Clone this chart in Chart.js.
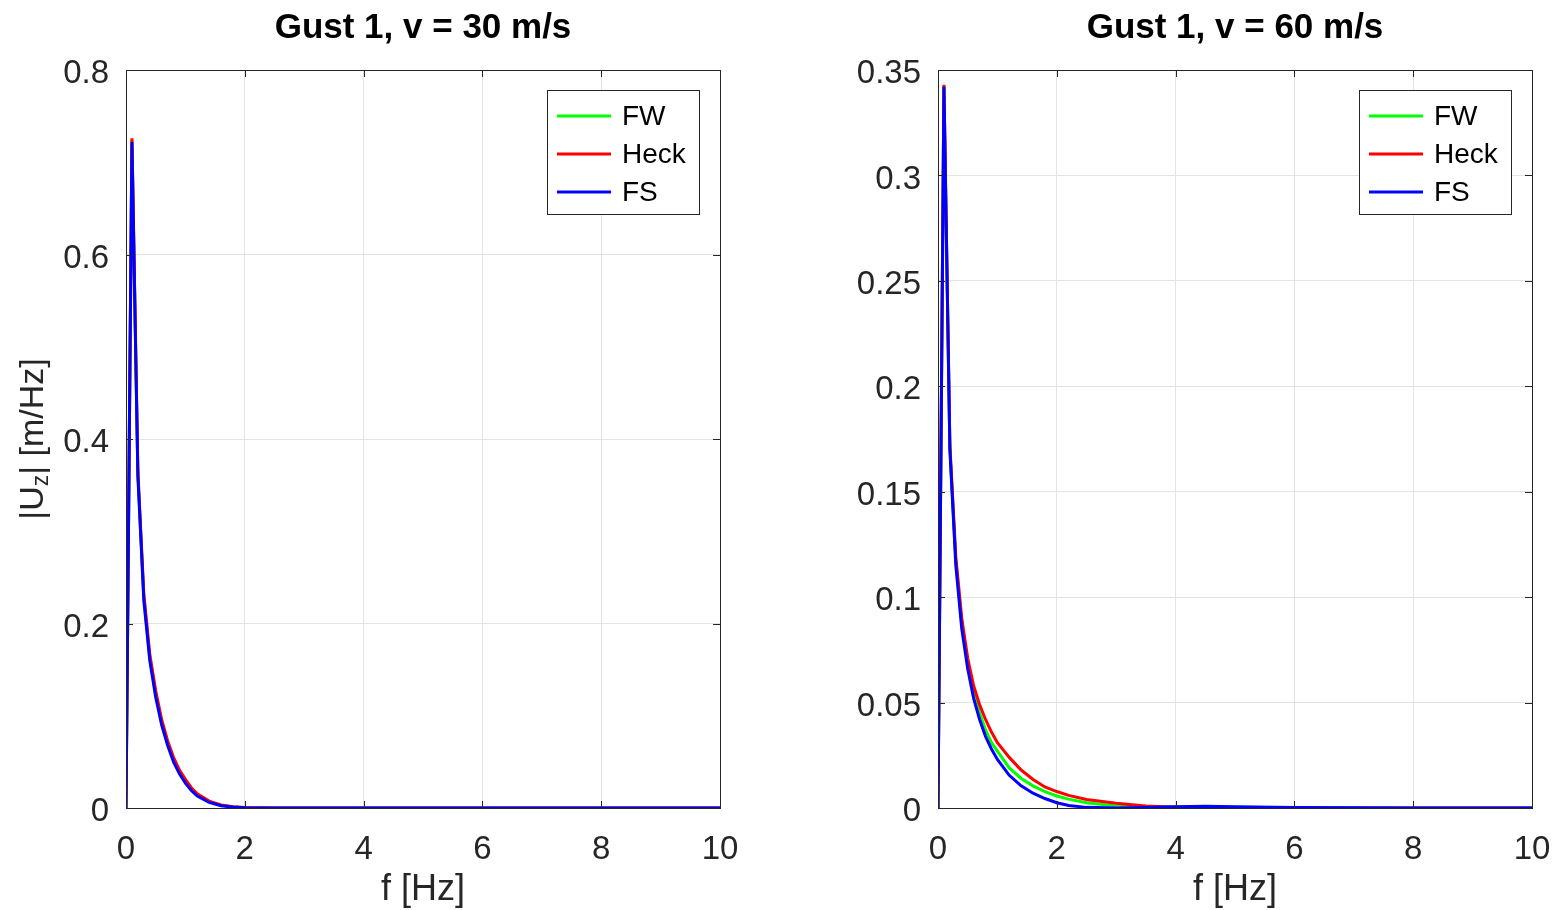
<!DOCTYPE html>
<html>
<head>
<meta charset="utf-8">
<script src="https://cdn.jsdelivr.net/npm/chart.js@4.4.0/dist/chart.umd.min.js"></script>
<style>
  body { margin: 0; background: #fff; overflow: hidden; }
  canvas { position: absolute; top: 0; }
  #chartL { left: 0; }
  #chartR { left: 780px; }
</style>
</head>
<body>
<canvas id="chartL" width="780" height="910"></canvas>
<canvas id="chartR" width="781" height="910"></canvas>
<script>
// datos
const seriesNames = ['FW', 'Heck', 'FS'];
const xTicks = [0, 2, 4, 6, 8, 10];
const yTicksL = [0, 0.2, 0.4, 0.6, 0.8];
const yTicksR = [0, 0.05, 0.1, 0.15, 0.2, 0.25, 0.3, 0.35];

// Gust 1, v = 30 m/s
const freqL = [0, 0.1, 0.2, 0.3, 0.4, 0.5, 0.6, 0.7, 0.8, 0.9, 1.0, 1.1, 1.2, 1.4, 1.6, 1.8, 2.0, 2.5, 3, 4, 5, 6, 7, 8, 9, 10];
const fwL   = [0, 0.724, 0.362, 0.228, 0.163, 0.123, 0.093, 0.070, 0.052, 0.039, 0.029, 0.0205, 0.014, 0.0068, 0.0029, 0.0011, 0.0004, 0, 0, 0, 0, 0, 0, 0, 0, 0];
const heckL = [0, 0.726, 0.365, 0.232, 0.167, 0.127, 0.096, 0.073, 0.055, 0.041, 0.031, 0.022, 0.0155, 0.0075, 0.0033, 0.0013, 0.0005, 0.0001, 0, 0, 0, 0, 0, 0, 0, 0];
const fsL   = [0, 0.722, 0.360, 0.225, 0.160, 0.120, 0.090, 0.068, 0.050, 0.037, 0.027, 0.019, 0.013, 0.006, 0.0025, 0.001, 0.0003, 0, 0, 0, 0, 0, 0, 0, 0, 0];

// Gust 1, v = 60 m/s
const freqR = [0, 0.1, 0.2, 0.3, 0.4, 0.5, 0.6, 0.7, 0.8, 0.9, 1.0, 1.2, 1.4, 1.6, 1.8, 2.0, 2.2, 2.5, 3.0, 3.5, 4.0, 4.5, 5.0, 6, 7, 8, 9, 10];
const fwR   = [0, 0.342, 0.171, 0.117, 0.087, 0.069, 0.055, 0.045, 0.037, 0.031, 0.027, 0.019, 0.014, 0.0105, 0.0078, 0.0057, 0.0042, 0.0025, 0.001, 0.0005, 0.0005, 0.0006, 0.0004, 0.0001, 0, 0, 0, 0];
const heckR = [0, 0.343, 0.172, 0.119, 0.090, 0.071, 0.058, 0.049, 0.042, 0.036, 0.031, 0.024, 0.018, 0.0135, 0.010, 0.0078, 0.006, 0.004, 0.0022, 0.001, 0.0004, 0.0002, 0.0001, 0, 0, 0, 0, 0];
const fsR   = [0, 0.342, 0.170, 0.115, 0.085, 0.066, 0.052, 0.042, 0.034, 0.028, 0.023, 0.0155, 0.0105, 0.007, 0.0045, 0.0025, 0.0012, 0.0003, 0, 0.0002, 0.0006, 0.0008, 0.0006, 0.0002, 0.0001, 0, 0, 0];

const colors = ['#00ff00', '#ff0000', '#0000ff'];
const FONT = "'Liberation Sans', Arial, Helvetica, sans-serif";
const AXIS = '#262626';

function pts(xs, ys) {
    return xs.map((x, i) => ({ x: x, y: ys[i] }));
}

// marco, ticks hacia adentro, titulo y leyenda estilo matlab
const matlabStyle = {
    id: 'matlabStyle',
    afterDraw(chart, args, opts) {
        const ctx = chart.ctx;
        const a = chart.chartArea;
        const xs = chart.scales.x, ys = chart.scales.y;
        ctx.save();
        ctx.strokeStyle = AXIS;
        ctx.lineWidth = 1;
        ctx.strokeRect(Math.round(a.left) + 0.5, Math.round(a.top) + 0.5, Math.round(a.right - a.left), Math.round(a.bottom - a.top));
        const tl = 7;
        ctx.beginPath();
        xs.ticks.forEach(t => {
            const px = Math.round(xs.getPixelForValue(t.value)) + 0.5;
            ctx.moveTo(px, a.bottom); ctx.lineTo(px, a.bottom - tl);
            ctx.moveTo(px, a.top); ctx.lineTo(px, a.top + tl);
        });
        ys.ticks.forEach(t => {
            const py = Math.round(ys.getPixelForValue(t.value)) + 0.5;
            ctx.moveTo(a.left, py); ctx.lineTo(a.left + tl, py);
            ctx.moveTo(a.right, py); ctx.lineTo(a.right - tl, py);
        });
        ctx.stroke();

        // titulo
        ctx.fillStyle = '#000';
        ctx.font = 'bold 35px ' + FONT;
        ctx.textAlign = 'center';
        ctx.textBaseline = 'middle';
        ctx.fillText(opts.title, (a.left + a.right) / 2, 28);

        // etiqueta eje y con subindice
        if (opts.ylabel) {
            ctx.save();
            ctx.translate(34, 439);
            ctx.rotate(-Math.PI / 2);
            ctx.fillStyle = AXIS;
            ctx.textBaseline = 'middle';
            ctx.textAlign = 'left';
            const big = '34px ' + FONT, small = '23px ' + FONT;
            const parts = [['|U', big, 0], ['z', small, 8], ['| [m/Hz]', big, 0]];
            let w = 0;
            parts.forEach(p => { ctx.font = p[1]; w += ctx.measureText(p[0]).width; });
            let x = -w / 2;
            parts.forEach(p => {
                ctx.font = p[1];
                ctx.fillText(p[0], x, p[2]);
                x += ctx.measureText(p[0]).width;
            });
            ctx.restore();
        }

        // leyenda
        const lw = 152, lh = 124;
        const lx = a.right - 21 - lw, ly = a.top + 20;
        ctx.fillStyle = '#fff';
        ctx.fillRect(lx, ly, lw, lh);
        ctx.strokeStyle = AXIS;
        ctx.strokeRect(Math.round(lx) + 0.5, Math.round(ly) + 0.5, lw, lh);
        ctx.font = '28px ' + FONT;
        ctx.textAlign = 'left';
        ctx.textBaseline = 'middle';
        chart.data.datasets.forEach((ds, i) => {
            const yy = ly + 26 + i * 38;
            ctx.strokeStyle = ds.borderColor;
            ctx.lineWidth = 3;
            ctx.beginPath();
            ctx.moveTo(lx + 10, yy); ctx.lineTo(lx + 64, yy);
            ctx.stroke();
            ctx.fillStyle = '#000';
            ctx.fillText(ds.label, lx + 75, yy + 1);
        });
        ctx.restore();
    }
};

function makeChart(id, title, freq, series, yTicks, yMax, yWidth, padRight, ylabel) {
    const ctx = document.getElementById(id).getContext('2d');
    return new Chart(ctx, {
        type: 'line',
        data: {
            datasets: series.map((s, i) => ({
                label: seriesNames[i],
                data: pts(freq, s),
                borderColor: colors[i],
                borderWidth: 3,
                pointRadius: 0,
                tension: 0,
                fill: false,
                order: 3 - i
            }))
        },
        options: {
            responsive: false,
            animation: false,
            layout: { padding: { top: 70, right: padRight, left: 0, bottom: 0 } },
            plugins: {
                legend: { display: false },
                tooltip: { enabled: false },
                matlabStyle: { title: title, ylabel: ylabel }
            },
            scales: {
                x: {
                    type: 'linear',
                    min: 0,
                    max: 10,
                    afterBuildTicks: s => { s.ticks = xTicks.map(v => ({ value: v })); },
                    afterFit: s => { s.height = 102; s.paddingLeft = 0; s.paddingRight = 0; },
                    grid: { color: '#e3e3e3', drawTicks: false },
                    border: { display: false },
                    ticks: { color: AXIS, font: { family: FONT, size: 33 }, padding: 22, maxRotation: 0,
                             callback: v => String(v) },
                    title: { display: true, text: 'f [Hz]', color: AXIS, font: { family: FONT, size: 36 },
                             padding: { top: 0, bottom: -2 } }
                },
                y: {
                    type: 'linear',
                    min: 0,
                    max: yMax,
                    afterBuildTicks: s => { s.ticks = yTicks.map(v => ({ value: v })); },
                    afterFit: s => { s.width = yWidth; s.paddingTop = 0; s.paddingBottom = 0; },
                    grid: { color: '#e3e3e3', drawTicks: false },
                    border: { display: false },
                    ticks: { color: AXIS, font: { family: FONT, size: 33 }, padding: 17, labelOffset: 4,
                             callback: v => String(v) }
                }
            }
        },
        plugins: [matlabStyle]
    });
}

makeChart('chartL', 'Gust 1, v = 30 m/s', freqL, [fwL, heckL, fsL], yTicksL, 0.8, 126, 60, true);
makeChart('chartR', 'Gust 1, v = 60 m/s', freqR, [fwR, heckR, fsR], yTicksR, 0.35, 158, 29, false);
</script>
</body>
</html>
